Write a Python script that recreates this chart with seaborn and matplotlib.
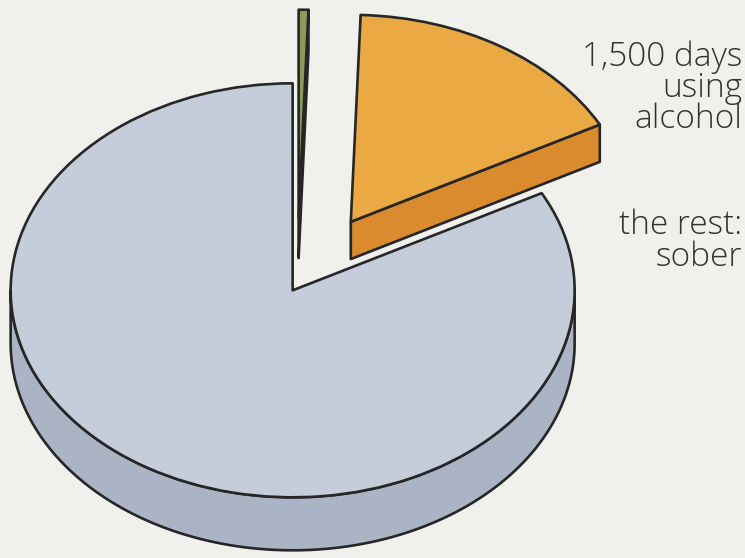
import numpy as np
import matplotlib
matplotlib.use("Agg")
import matplotlib.pyplot as plt
import seaborn as sns
from matplotlib.patches import Polygon

# ---- data ----
categories = ["using alcohol", "other", "sober"]
days = [1500, 50, 7450]
label_alcohol = "1,500 days\nusing\nalcohol"
label_sober = "the rest:\nsober"

# ---- style ----
explode = [0.36, 0.33, 0.03]
top_colors = ["#eaa943", "#8d9a5a", "#c5cddb"]
side_colors = ["#d98b2e", "#6a4a66", "#abb4c4"]
depths = [0.18, 0.20, 0.256]
top_z = [3, 3, 6]
EDGE = "#262626"
BG = "#f0f0ed"

sns.set_theme(style="white")
plt.rcParams["font.family"] = ["Open Sans", "DejaVu Sans"]

fig = plt.figure(figsize=(7.45, 5.58), dpi=100, facecolor=BG)
ax = fig.add_axes([0, 0, 1, 1])
ax.set_facecolor(BG)

wedges, _ = ax.pie(days, explode=explode, colors=top_colors, startangle=28,
                   counterclock=True,
                   wedgeprops=dict(edgecolor=EDGE, linewidth=1.9, joinstyle="round"))


def unit(t):
    return np.array([np.cos(np.radians(t)), np.sin(np.radians(t))])


for w, sc, d, z in zip(wedges, side_colors, depths, top_z):
    w.set_zorder(z)
    cx, cy = w.center
    r = w.r
    t1, t2 = w.theta1, w.theta2
    c = np.array([cx, cy])
    down = np.array([0, -d])
    polys = []
    # outer curved side: visible for angles in [180, 360] (+360k)
    for k in range(-1, 3):
        a = max(t1, 180 + 360 * k)
        b = min(t2, 360 + 360 * k)
        if b > a:
            ts = np.linspace(a, b, 120)
            top = np.array([c + r * unit(t) for t in ts])
            bot = top[::-1] + down
            polys.append(np.vstack([top, bot]))
    # radial faces facing the viewer
    if np.cos(np.radians(t1)) > 1e-6:
        p = c + r * unit(t1)
        polys.append(np.array([c, p, p + down, c + down]))
    if np.cos(np.radians(t2)) < -1e-6:
        p = c + r * unit(t2)
        polys.append(np.array([c, p, p + down, c + down]))
    for pts in polys:
        ax.add_patch(Polygon(pts, closed=True, facecolor=sc, edgecolor=EDGE,
                             linewidth=1.9, joinstyle="round", zorder=z - 0.5))

# map data units to the reference layout
px_x, px_y = 282.0, 207.0
cxp, cyp = 297.0, 285.0
W, H = 745.0, 558.0
ax.set_xlim(-cxp / px_x, (W - cxp) / px_x)
ax.set_ylim(-(H - cyp) / px_y, cyp / px_y)
ax.set_aspect("auto")
ax.axis("off")

ax.text(742 / W, 1 - 40 / H, label_alcohol, transform=ax.transAxes,
        ha="right", va="top", multialignment="right", fontsize=24,
        fontweight="light", color="#333333", linespacing=0.92)
ax.text(742 / W, 1 - 209 / H, label_sober, transform=ax.transAxes,
        ha="right", va="top", multialignment="right", fontsize=24,
        fontweight="light", color="#333333", linespacing=0.92)

fig.savefig("out.png", dpi=100, facecolor=BG)
